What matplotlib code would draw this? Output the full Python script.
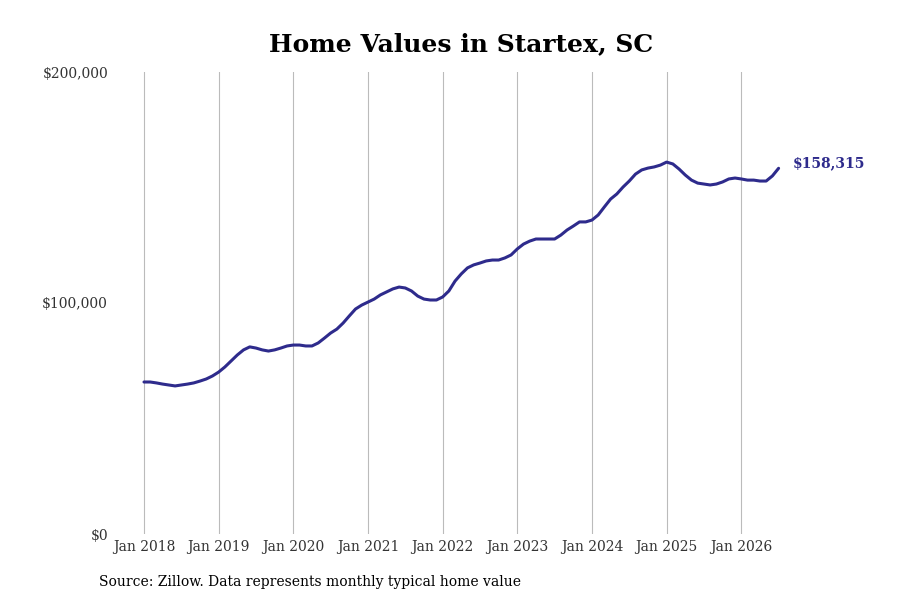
import numpy as np
import matplotlib
matplotlib.use("Agg")
import matplotlib.pyplot as plt

# monthly typical home value, Jan 2018 .. Jul 2026 (thousands of $)
values_k = [
    65.8, 65.8, 65.4, 64.9, 64.5, 64.1, 64.5, 64.9, 65.4, 66.2, 67.1, 68.4,
    70.1, 72.3, 74.9, 77.5, 79.7, 81.0, 80.5, 79.7, 79.2, 79.7, 80.5, 81.4,
    81.8, 81.8, 81.4, 81.4, 82.7, 84.8, 87.0, 88.7, 91.3, 94.4, 97.4, 99.1,
    100.4, 101.7, 103.5, 104.8, 106.1, 106.9, 106.5, 105.2, 103.0, 101.7, 101.3, 101.3,
    102.6, 105.2, 109.5, 112.6, 115.2, 116.5, 117.3, 118.2, 118.6, 118.6, 119.5, 120.8,
    123.4, 125.5, 126.8, 127.7, 127.7, 127.7, 127.7, 129.4, 131.6, 133.3, 135.1, 135.1,
    135.9, 138.1, 141.6, 145.0, 147.2, 150.2, 152.8, 155.8, 157.6, 158.4, 158.9, 159.7,
    161.0, 160.2, 158.0, 155.4, 153.2, 151.9, 151.5, 151.1, 151.5, 152.4, 153.7, 154.1,
    153.7, 153.2, 153.2, 152.8, 152.8, 155.0, 158.315,
]
years = list(range(2018, 2027))
tick_labels = [f"Jan {y}" for y in years]
y_ticks = [0, 100000, 200000]
y_labels = ["$0", "$100,000", "$200,000"]
last_label = "$158,315"

line_color = "#2e2b8c"
plt.rcParams["font.family"] = "DejaVu Serif"

values = np.array(values_k) * 1000
months = np.arange(len(values))

fig = plt.figure(figsize=(9, 6), dpi=100)
ax = fig.add_axes([115 / 900, 66 / 600, 765 / 900, 462 / 600])

ax.plot(months, values, color=line_color, linewidth=2.2, solid_capstyle="round")

ax.set_xlim(-4.66, 118.3)
ax.set_ylim(0, 200000)
ax.set_xticks([12 * i for i in range(len(years))])
ax.set_xticklabels(tick_labels, fontsize=10, color="#333333")
ax.set_yticks(y_ticks)
ax.set_yticklabels(y_labels, fontsize=10, color="#333333")
ax.tick_params(length=0, axis="x", pad=4)
ax.tick_params(length=0, axis="y", pad=5)
ax.grid(axis="x", color="#bbbbbb", linewidth=0.8)
ax.grid(axis="y", visible=False)
for s in ax.spines.values():
    s.set_visible(False)

ax.annotate(last_label, xy=(months[-1], values[-1]), xytext=(10, 4),
            textcoords="offset points", color=line_color, fontsize=10,
            fontweight="bold", va="center", ha="left")

fig.text(461 / 900, 1 - 44 / 600, "Home Values in Startex, SC", ha="center",
         va="center", fontsize=18, fontweight="bold")
fig.text(99 / 900, 1 - 582 / 600,
         "Source: Zillow. Data represents monthly typical home value",
         ha="left", va="center", fontsize=10)

fig.savefig("out.png", dpi=100)
